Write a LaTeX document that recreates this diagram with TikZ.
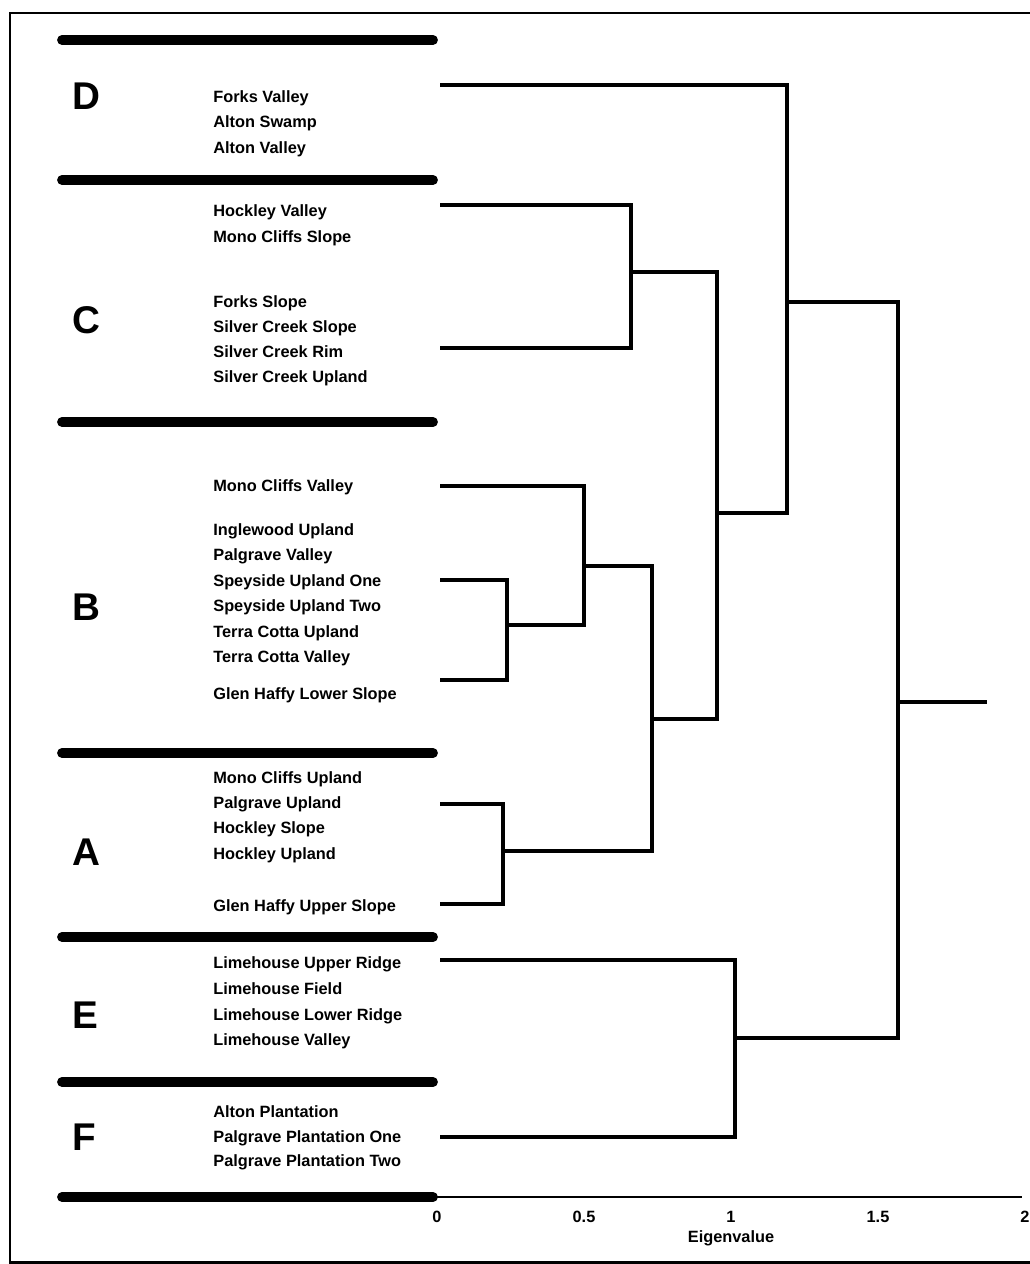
\documentclass[tikz,border=0pt]{standalone}
\usepackage{fontspec}
\setmainfont{Liberation Sans}
\usepackage{tikz}
\usetikzlibrary{positioning,calc}
\tikzset{
  base/.style={font=\bfseries\fontsize{9.3}{11}\selectfont, inner sep=0pt, text=black},
  site/.style={base, anchor=west, text height=6.7pt, text depth=0pt},
  grp/.style={base, anchor=west, font=\bfseries\fontsize{22}{24}\selectfont, text height=15.8pt, text depth=0pt},
  ticklbl/.style={base, text height=6.7pt, text depth=0pt},
  sep/.style={line width=5.6pt, line cap=round},
  link/.style={line width=2.2pt, line join=miter},
  axisline/.style={line width=1.6pt},
  frame/.style={line width=1.7pt},
}

\begin{document}
\begin{tikzpicture}[x=0.02cm,y=-0.02cm]
  \useasboundingbox (0,0) rectangle (1029,1264);
  \draw[frame] (1040,13) -- (10,13) -- (10,1262) -- (1040,1262);
  % group bands
  \foreach \y in {40,180,422,753,937,1082,1197}{\draw[sep] (62,\y) -- (433,\y);}
  \foreach \y/\g in {96/D,320/C,607/B,852/A,1015/E,1137/F}{
    \node[grp] (g\g) at (72,\y) {\g};
  }
  % site names
  \foreach \y/\t in {97/Forks Valley,122/Alton Swamp,148/Alton Valley,
      211/Hockley Valley,237/Mono Cliffs Slope,302/Forks Slope,327/Silver Creek Slope,352/Silver Creek Rim,377/Silver Creek Upland,
      486/Mono Cliffs Valley,530/Inglewood Upland,555/Palgrave Valley,581/Speyside Upland One,606/Speyside Upland Two,632/Terra Cotta Upland,657/Terra Cotta Valley,694/Glen Haffy Lower Slope,
      778/Mono Cliffs Upland,803/Palgrave Upland,828/Hockley Slope,854/Hockley Upland,906/Glen Haffy Upper Slope,
      963/Limehouse Upper Ridge,989/Limehouse Field,1015/Limehouse Lower Ridge,1040/Limehouse Valley,
      1112/Alton Plantation,1137/Palgrave Plantation One,1161/Palgrave Plantation Two}{
    \node[site] (s\y) at (213,\y) {\t};
  }
  % leaves
  \coordinate (lD) at (440,85);
  \coordinate (lC1) at (440,205);
  \coordinate (lC2) at (440,348);
  \coordinate (lB1) at (440,486);
  \coordinate (lB2) at (440,580);
  \coordinate (lB3) at (440,680);
  \coordinate (lA1) at (440,804);
  \coordinate (lA2) at (440,904);
  \coordinate (lE) at (440,960);
  \coordinate (lF) at (440,1137);
  % joins
  \coordinate (kC) at (631,272);
  \coordinate (kB1) at (507,625);
  \coordinate (kB) at (584,566);
  \coordinate (kA) at (503,851);
  \coordinate (kBA) at (652,719);
  \coordinate (kCBA) at (717,513);
  \coordinate (kD) at (787,302);
  \coordinate (kEF) at (735,1038);
  \coordinate (kroot) at (898,702);
  \coordinate (rootend) at (987,702);
  \foreach \a/\b in {lC1/kC,lC2/kC,lB2/kB1,lB3/kB1,lB1/kB,kB1/kB,lA1/kA,lA2/kA,
      kB/kBA,kA/kBA,kC/kCBA,kBA/kCBA,lD/kD,kCBA/kD,lE/kEF,lF/kEF,kD/kroot,kEF/kroot}{
    \draw[link] (\a) -| (\b);
  }
  \draw[link,line width=1.8pt] (kroot) -- (rootend);
  % axis
  \coordinate (ax0) at (437,1197);
  \coordinate (ax2) at (1022,1197);
  \draw[axisline] (ax0) -- (ax2);
  \foreach \v/\t in {0/0,0.5/0.5,1/1,1.5/1.5,2/2}{
    \node[ticklbl] (t\t) at (437+294*\v,1217) {\t};
  }
  \node[ticklbl, below=4pt of t1] (axlbl) {Eigenvalue};
\end{tikzpicture}
\end{document}
